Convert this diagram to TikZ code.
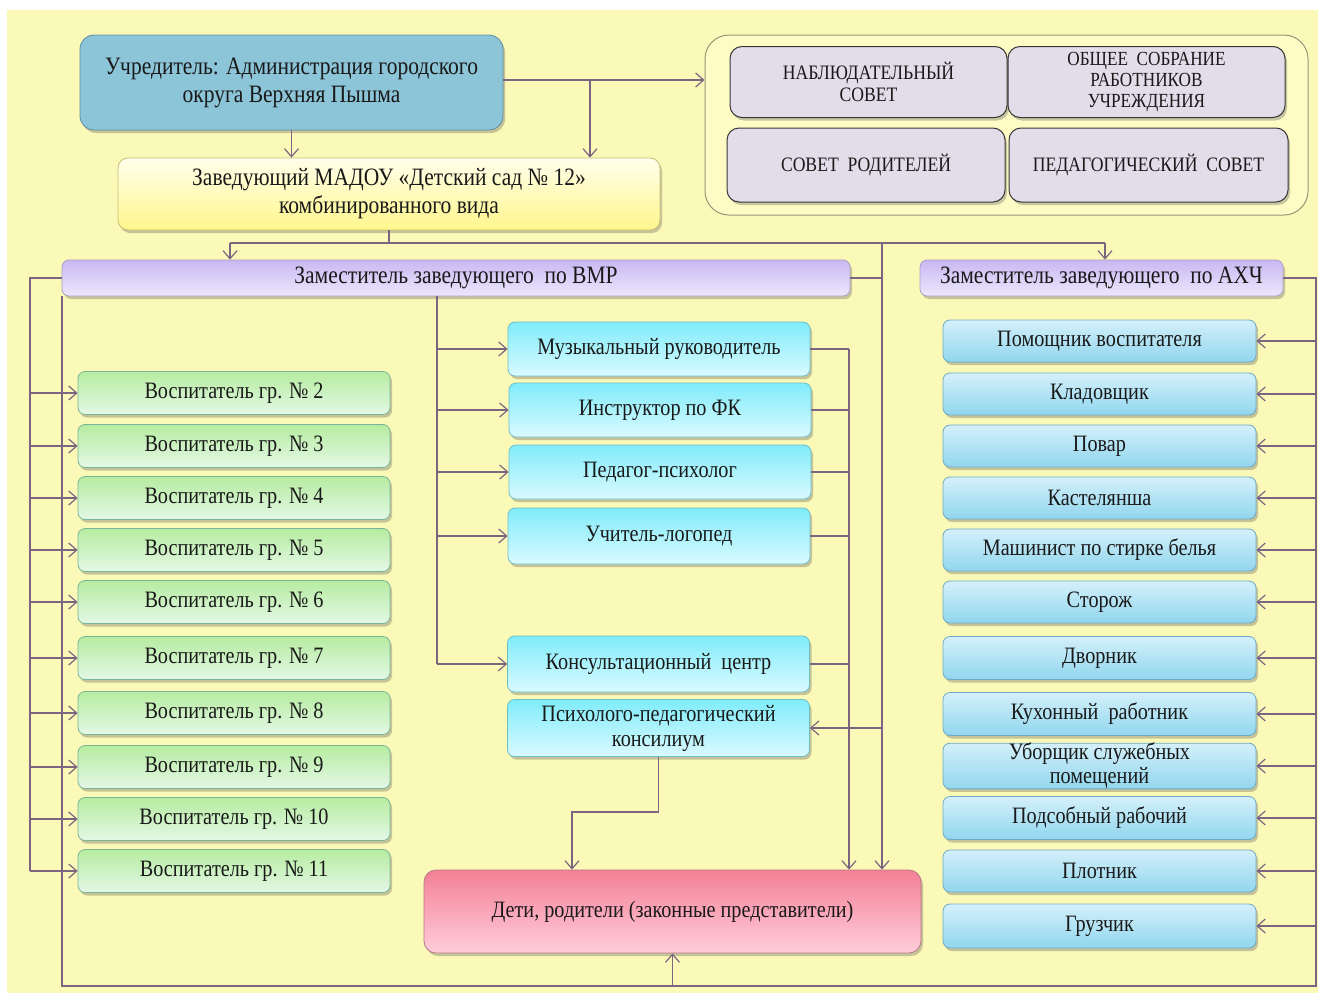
\documentclass[tikz,border=0pt]{standalone}
\usepackage{fontspec}
\setmainfont{Liberation Serif}[FakeStretch=0.86]
\usetikzlibrary{shadows,arrows.meta}
\definecolor{bg}{RGB}{251,249,184}
\definecolor{ln}{RGB}{125,100,128}
\definecolor{txt}{RGB}{25,25,25}
\definecolor{fnd}{RGB}{140,196,216}
\definecolor{fndb}{RGB}{95,140,160}
\definecolor{hdt}{RGB}{255,255,235}
\definecolor{hdb}{RGB}{255,246,140}
\definecolor{hdbd}{RGB}{200,190,120}
\definecolor{prt}{RGB}{200,184,242}
\definecolor{prb}{RGB}{236,232,252}
\definecolor{prbd}{RGB}{170,160,200}
\definecolor{grt}{RGB}{182,236,160}
\definecolor{grb}{RGB}{228,248,230}
\definecolor{grbd}{RGB}{120,180,150}
\definecolor{cyt}{RGB}{128,236,250}
\definecolor{cyb}{RGB}{218,250,255}
\definecolor{cybd}{RGB}{110,190,200}
\definecolor{lbt}{RGB}{212,240,250}
\definecolor{lbb}{RGB}{145,214,238}
\definecolor{lbbd}{RGB}{110,170,195}
\definecolor{pkt}{RGB}{244,128,150}
\definecolor{pkb}{RGB}{255,205,218}
\definecolor{pkbd}{RGB}{180,120,130}
\definecolor{cnf}{RGB}{226,221,233}
\definecolor{cnb}{RGB}{55,55,55}
\definecolor{cont}{RGB}{254,252,196}
\definecolor{contb}{RGB}{150,150,120}
\tikzset{
  box/.style={rounded corners=7pt, align=center, inner sep=2pt, text=txt,
    line width=0.8pt, font=\fontsize{23.5}{25}\selectfont,
    drop shadow={shadow xshift=2pt, shadow yshift=-3pt, opacity=0.3, fill=black!70}},
  bigtext/.style={font=\fontsize{25}{28}\selectfont},
  fndbox/.style={box, bigtext, fill=fnd, draw=fndb, rounded corners=14pt},
  headbox/.style={box, bigtext, top color=hdt, bottom color=hdb, draw=hdbd, rounded corners=10pt},
  zambox/.style={box, bigtext, top color=prt, bottom color=prb, draw=prbd, minimum height=36pt},
  grbox/.style={box, top color=grt, bottom color=grb, draw=grbd, minimum width=312pt, minimum height=43pt},
  cybox/.style={box, top color=cyt, bottom color=cyb, draw=cybd, minimum width=302pt, minimum height=54pt},
  lbbox/.style={box, top color=lbt, bottom color=lbb, draw=lbbd, minimum width=313pt, minimum height=42pt},
  cnbox/.style={box, fill=cnf, draw=cnb, line width=1pt, rounded corners=12pt,
    font=\fontsize{20.5}{22}\selectfont},
  conn/.style={draw=ln, line width=1.3pt},
  arr/.style={conn, -{Straight Barb[length=8pt,width=14pt,line width=1.2pt]}}
}
\begin{document}
\begin{tikzpicture}[x=1pt,y=-1pt]
\useasboundingbox (0,0) rectangle (1320,996);
\fill[bg] (7,10) rectangle (1318,993);

% top
\node[fndbox, minimum width=423pt, minimum height=95pt] (fnd) at (291.5,82.5)
  {Учредитель: Администрация городского\\округа Верхняя Пышма};
\node[headbox, minimum width=542pt, minimum height=72pt] (head) at (389,194)
  {Заведующий МАДОУ «Детский сад № 12»\\комбинированного вида};
\node[draw=contb, fill=cont, line width=1pt, rounded corners=24pt,
  minimum width=603pt, minimum height=180pt] (cont) at (1006.5,125) {};
\node[cnbox, minimum width=277pt, minimum height=71pt] (nab) at (868.5,82) {НАБЛЮДАТЕЛЬНЫЙ\\СОВЕТ};
\node[cnbox, minimum width=277pt, minimum height=71pt, font=\fontsize{20}{21}\selectfont] (obs) at (1146.5,82) {ОБЩЕЕ \ СОБРАНИЕ\\РАБОТНИКОВ\\УЧРЕЖДЕНИЯ};
\node[cnbox, minimum width=278pt, minimum height=74pt] (sovrod) at (866,165) {СОВЕТ \ РОДИТЕЛЕЙ};
\node[cnbox, minimum width=279pt, minimum height=74pt] (ped) at (1148.5,165) {ПЕДАГОГИЧЕСКИЙ \ СОВЕТ};

% deputies
\node[zambox, minimum width=788pt] (vmr) at (456,278) {Заместитель заведующего \ по ВМР};
\node[zambox, minimum width=363pt] (ahch) at (1101.5,278) {Заместитель заведующего \ по АХЧ};

% educators
\node[grbox] (v2) at (234,393) {Воспитатель гр. № 2};
\node[grbox] (v3) at (234,446) {Воспитатель гр. № 3};
\node[grbox] (v4) at (234,498) {Воспитатель гр. № 4};
\node[grbox] (v5) at (234,550) {Воспитатель гр. № 5};
\node[grbox] (v6) at (234,602) {Воспитатель гр. № 6};
\node[grbox] (v7) at (234,658) {Воспитатель гр. № 7};
\node[grbox] (v8) at (234,713) {Воспитатель гр. № 8};
\node[grbox] (v9) at (234,767) {Воспитатель гр. № 9};
\node[grbox] (v10) at (234,819) {Воспитатель гр. № 10};
\node[grbox] (v11) at (234,871) {Воспитатель гр. № 11};

% specialists
\node[cybox] (mus) at (659,349) {Музыкальный руководитель};
\node[cybox] (ins) at (660,410) {Инструктор по ФК};
\node[cybox] (psy) at (660,472) {Педагог-психолог};
\node[cybox, minimum height=56pt] (log) at (659,536) {Учитель-логопед};
\node[cybox, minimum height=56pt] (kons) at (658.5,664) {Консультационный \ центр};
\node[cybox, minimum height=57pt] (ppk) at (658.5,728) {Психолого-педагогический\\консилиум};

% staff
\node[lbbox] (a1) at (1099.5,341) {Помощник воспитателя};
\node[lbbox] (a2) at (1099.5,394) {Кладовщик};
\node[lbbox] (a3) at (1099.5,446) {Повар};
\node[lbbox] (a4) at (1099.5,498) {Кастелянша};
\node[lbbox] (a5) at (1099.5,550) {Машинист по стирке белья};
\node[lbbox] (a6) at (1099.5,602) {Сторож};
\node[lbbox, minimum height=43pt] (a7) at (1099.5,658) {Дворник};
\node[lbbox, minimum height=43pt] (a8) at (1099.5,714) {Кухонный \ работник};
\node[lbbox, minimum height=44pt, inner sep=0pt, font=\fontsize{23.5}{24}\selectfont] (a9) at (1099.5,766) {Уборщик служебных\\помещений};
\node[lbbox, minimum height=43pt] (a10) at (1099.5,818) {Подсобный рабочий};
\node[lbbox] (a11) at (1099.5,871) {Плотник};
\node[lbbox, minimum height=44pt] (a12) at (1099.5,926) {Грузчик};

% children
\node[box, top color=pkt, bottom color=pkb, draw=pkbd, rounded corners=12pt,
  minimum width=497pt, minimum height=83pt] (deti) at (672.5,911.5)
  {Дети, родители (законные представители)};

% helper coordinates
\coordinate (j1) at (590,80);
\coordinate (busL) at (230,243);
\coordinate (busR) at (1105,243);
\coordinate (bus2) at (882,243);
\coordinate (L1) at (30,278);
\coordinate (L2) at (62,986);
\coordinate (R1) at (1316,986);
\coordinate (M) at (437,296);
\coordinate (Rm) at (849,349);
\coordinate (P) at (572,812);

% connectors top
\draw[arr] (fnd.south) -- (fnd.south |- head.north);
\draw[arr] (fnd.east |- j1) -- (j1 -| cont.west);
\draw[arr] (j1) -- (j1 |- head.north);
\draw[conn] (head.south) -- (head.south |- busL);
\draw[conn] (busL) -- (busR);
\draw[arr] (busL) -- (busL |- vmr.north);
\draw[arr] (busR) -- (busR |- ahch.north);
\draw[arr] (bus2) -- (bus2 |- deti.north);
\draw[conn] (vmr.east) -- (vmr.east -| bus2);
\draw[arr] (ppk.east -| bus2) -- (ppk.east);

% left educators
\draw[conn] (vmr.west) -- (L1) -- (L1 |- v11.west);
\foreach \n in {v2,v3,v4,v5,v6,v7,v8,v9,v10,v11}
  \draw[arr] (\n.west -| L1) -- (\n.west);

% big loop
\draw[conn] (vmr.south west -| L2) -- (L2) -- (R1) -- (R1 |- ahch.east) -- (ahch.east);
\draw[arr] (deti.south |- L2) -- (deti.south);
\foreach \n in {a1,a2,a3,a4,a5,a6,a7,a8,a9,a10,a11,a12}
  \draw[arr] (\n.east -| R1) -- (\n.east);

% middle specialists
\draw[conn] (M) -- (M |- kons.west);
\foreach \n in {mus,ins,psy,log,kons}
  \draw[arr] (\n.west -| M) -- (\n.west);
\foreach \n in {mus,ins,psy,log,kons}
  \draw[conn] (\n.east) -- (\n.east -| Rm);
\draw[arr] (Rm) -- (Rm |- deti.north);
\draw[arr] (ppk.south) |- (P) -- (P |- deti.north);
\end{tikzpicture}
\end{document}
